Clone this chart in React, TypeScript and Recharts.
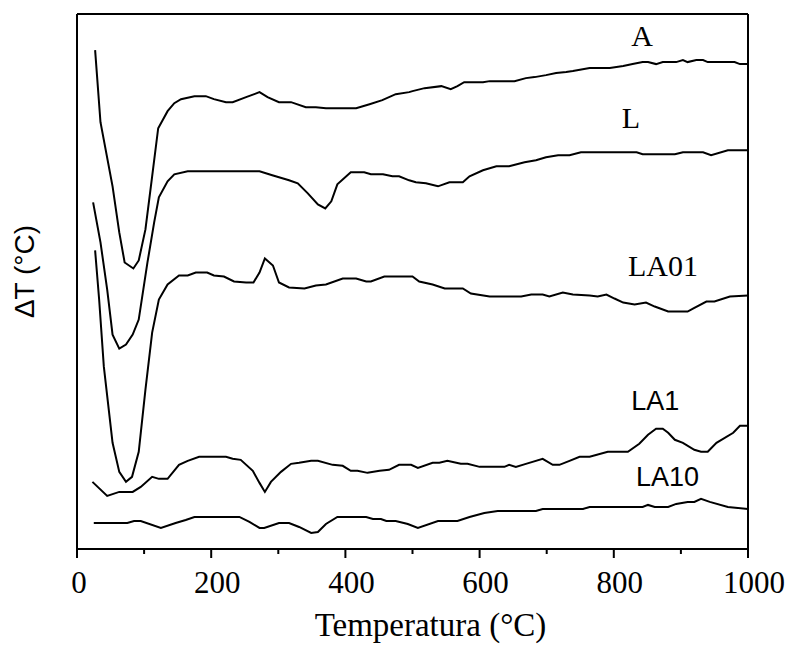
import React from "react";
import { LineChart, Line, XAxis, YAxis, Label, ReferenceDot } from "recharts";

// Temperature (°C), ΔT (arbitrary units, offset curves)
const seriesA: [number, number][] = [
  [27, 498], [35, 426], [53, 362], [63, 316], [71, 286], [84, 280], [92, 288], [102, 319], [112, 372], [121, 420],
  [135, 437], [145, 445], [155, 449], [175, 452], [192, 452], [204, 449], [222, 446], [232, 446], [252, 451], [272, 456],
  [284, 451], [301, 446], [319, 446], [341, 441], [356, 441], [371, 440], [416, 440], [436, 444], [455, 448], [475, 454],
  [495, 456], [500, 457], [518, 460], [543, 462], [557, 459], [567, 462], [577, 466], [605, 466], [615, 467], [652, 467],
  [669, 470], [682, 471], [699, 473], [714, 475], [729, 476], [739, 477], [764, 480], [794, 480], [814, 482], [828, 484],
  [843, 486], [851, 486], [863, 484], [873, 486], [893, 486], [903, 488], [910, 486], [923, 488], [933, 488], [940, 486],
  [980, 486], [988, 484], [1000, 484],
];

const seriesL: [number, number][] = [
  [24, 346], [35, 306], [45, 259], [53, 214], [63, 200], [73, 204], [83, 214], [92, 229], [105, 286], [115, 326],
  [122, 351], [135, 367], [145, 374], [165, 377], [272, 377], [291, 373], [316, 368], [329, 365], [344, 355], [359, 344],
  [370, 340], [379, 347], [388, 364], [408, 376], [428, 376], [438, 374], [456, 374], [470, 372], [480, 372], [495, 368],
  [505, 366], [520, 365], [538, 362], [555, 366], [575, 366], [585, 372], [605, 378], [625, 382], [644, 382], [667, 386],
  [684, 388], [699, 391], [717, 393], [734, 393], [751, 396], [834, 396], [843, 394], [891, 394], [903, 396], [933, 396],
  [945, 393], [970, 398], [1000, 398],
];

const seriesLA01: [number, number][] = [
  [27, 298], [33, 249], [40, 182], [53, 106], [63, 77], [73, 67], [82, 72], [92, 97], [102, 159], [112, 216],
  [122, 249], [135, 264], [152, 273], [165, 273], [177, 276], [194, 276], [204, 273], [219, 272], [234, 267], [252, 266],
  [263, 266], [272, 276], [280, 290], [292, 283], [301, 266], [316, 261], [339, 260], [356, 263], [371, 264], [396, 270],
  [416, 270], [431, 267], [438, 267], [458, 272], [500, 272], [510, 267], [530, 264], [548, 260], [575, 260], [587, 255],
  [615, 252], [662, 252], [677, 254], [694, 254], [704, 252], [724, 256], [739, 254], [764, 253], [776, 252], [789, 254],
  [801, 250], [814, 246], [831, 244], [848, 246], [861, 242], [881, 237], [910, 237], [918, 240], [938, 247], [950, 247],
  [973, 252], [1000, 253],
];

const seriesLA1: [number, number][] = [
  [23, 67], [45, 53], [63, 57], [83, 57], [95, 62], [112, 72], [122, 70], [135, 70], [152, 84], [165, 88],
  [182, 92], [222, 92], [232, 90], [244, 89], [262, 78], [272, 66], [280, 57], [289, 67], [304, 77], [319, 85],
  [331, 86], [349, 88], [359, 88], [381, 84], [396, 83], [408, 78], [418, 78], [433, 76], [451, 78], [465, 79],
  [480, 84], [498, 84], [508, 81], [530, 86], [540, 86], [552, 88], [572, 85], [582, 85], [600, 82], [637, 82],
  [644, 84], [654, 82], [669, 85], [694, 90], [709, 84], [719, 84], [734, 88], [749, 92], [764, 92], [791, 97],
  [821, 97], [838, 105], [851, 114], [863, 120], [873, 120], [881, 116], [891, 109], [903, 106], [920, 99], [930, 97],
  [940, 97], [953, 106], [978, 116], [988, 123], [1000, 123],
];

const seriesLA10: [number, number][] = [
  [25, 26], [75, 26], [85, 28], [95, 28], [125, 21], [147, 26], [162, 29], [175, 32], [242, 32], [257, 27],
  [272, 21], [279, 21], [301, 26], [316, 26], [331, 22], [349, 16], [359, 17], [371, 25], [388, 32], [431, 32],
  [441, 30], [453, 30], [461, 28], [475, 28], [493, 25], [508, 21], [538, 28], [567, 28], [585, 32], [607, 36],
  [627, 38], [684, 38], [694, 40], [754, 40], [764, 42], [843, 42], [851, 44], [861, 42], [881, 42], [893, 45],
  [910, 47], [920, 47], [930, 50], [943, 47], [970, 42], [1000, 40],
];

const xTicks = [0, 100, 200, 300, 400, 500, 600, 700, 800, 900, 1000];
const yMax = 534;
const yTicks = Array.from({ length: 33 }, (_, i) => (i * yMax) / 32);

// Curve name labels anchored in data coordinates (temperature, ΔT)
const curveLabels = [
  { name: "A", t: 826, v: 502, family: "serif" },
  { name: "L", t: 812, v: 420, family: "serif" },
  { name: "LA01", t: 821, v: 272, family: "serif" },
  { name: "LA1", t: 826, v: 139, family: "sans" },
  { name: "LA10", t: 833, v: 63, family: "sans" },
];

const allSeries = [seriesA, seriesL, seriesLA01, seriesLA1, seriesLA10];
const seriesNames = ["A", "L", "LA01", "LA1", "LA10"];

const toPoints = (s: [number, number][]) => s.map(([t, v]) => ({ t, v }));

const SERIF = "Liberation Serif";
const SANS = "Liberation Sans";

const XTick = (props: any) => {
  const { x, y, payload } = props;
  const major = payload.value % 200 === 0;
  return (
    <g>
      <line x1={x} x2={x} y1={y} y2={y + (major ? 9 : 5)} stroke="#000" strokeWidth={2} />
      {major && (
        <text
          x={x + (payload.value === 0 ? 2 : 6)}
          y={y + 44}
          textAnchor="middle"
          fontFamily={SERIF}
          fontSize={31}
          fill="#000"
        >
          {payload.value}
        </text>
      )}
    </g>
  );
};

const CurveText = (props: any) => {
  const { viewBox, labelText, labelFamily } = props;
  const isSerif = labelFamily === "serif";
  return (
    <text
      x={viewBox.x}
      y={viewBox.y}
      textAnchor="start"
      fontFamily={isSerif ? SERIF : SANS}
      fontSize={isSerif ? 30 : 27}
      fill="#000"
    >
      {labelText}
    </text>
  );
};

const YTitle = (props: any) => {
  const { viewBox } = props;
  const cx = viewBox.x - 43;
  const cy = viewBox.y + viewBox.height / 2 - 10;
  return (
    <text
      x={cx}
      y={cy}
      transform={`rotate(-90, ${cx}, ${cy})`}
      textAnchor="middle"
      fontFamily={SANS}
      fontSize={28}
      fill="#000"
    >
      ΔT (°C)
    </text>
  );
};

const XTitle = (props: any) => {
  const { viewBox } = props;
  return (
    <text
      x={viewBox.x + viewBox.width / 2 + 18}
      y={viewBox.y + 87}
      textAnchor="middle"
      fontFamily={SERIF}
      fontSize={33}
      fill="#000"
    >
      Temperatura (°C)
    </text>
  );
};

export default function App() {
  return (
    <LineChart
      width={785}
      height={637}
      margin={{ top: 6, right: 44, bottom: 0, left: 69 }}
    >
      <XAxis
        type="number"
        dataKey="t"
        domain={[0, 1000]}
        ticks={xTicks}
        interval={0}
        tickSize={0}
        tickMargin={0}
        tickLine={false}
        tick={<XTick />}
        height={96}
        axisLine={{ stroke: "#000", strokeWidth: 2 }}
        allowDataOverflow
      >
        <Label content={<XTitle />} />
      </XAxis>
      <XAxis
        xAxisId="top"
        orientation="top"
        type="number"
        dataKey="t"
        domain={[0, 1000]}
        ticks={xTicks}
        interval={0}
        height={1}
        mirror
        tickSize={3}
        tick={false}
        tickLine={{ stroke: "#000", strokeWidth: 1.5 }}
        axisLine={{ stroke: "#000", strokeWidth: 2 }}
      />
      <YAxis
        type="number"
        domain={[0, yMax]}
        ticks={yTicks}
        interval={0}
        width={1}
        mirror
        tickSize={3}
        tick={false}
        tickLine={{ stroke: "#000", strokeWidth: 1.5 }}
        axisLine={{ stroke: "#000", strokeWidth: 2 }}
        allowDataOverflow
      >
        <Label content={<YTitle />} />
      </YAxis>
      <YAxis
        yAxisId="right"
        orientation="right"
        type="number"
        domain={[0, yMax]}
        ticks={yTicks}
        interval={0}
        width={1}
        tickSize={3}
        tick={false}
        tickLine={{ stroke: "#000", strokeWidth: 1.5 }}
        axisLine={{ stroke: "#000", strokeWidth: 2 }}
      />
      {allSeries.map((s, i) => (
        <Line
          key={seriesNames[i]}
          name={seriesNames[i]}
          data={toPoints(s)}
          dataKey="v"
          type="linear"
          stroke="#000"
          strokeWidth={2}
          dot={false}
          activeDot={false}
          isAnimationActive={false}
        />
      ))}
      {curveLabels.map((l) => (
        <ReferenceDot
          key={l.name}
          x={l.t}
          y={l.v}
          r={0}
          fill="none"
          stroke="none"
          label={<CurveText labelText={l.name} labelFamily={l.family} />}
        />
      ))}
    </LineChart>
  );
}
